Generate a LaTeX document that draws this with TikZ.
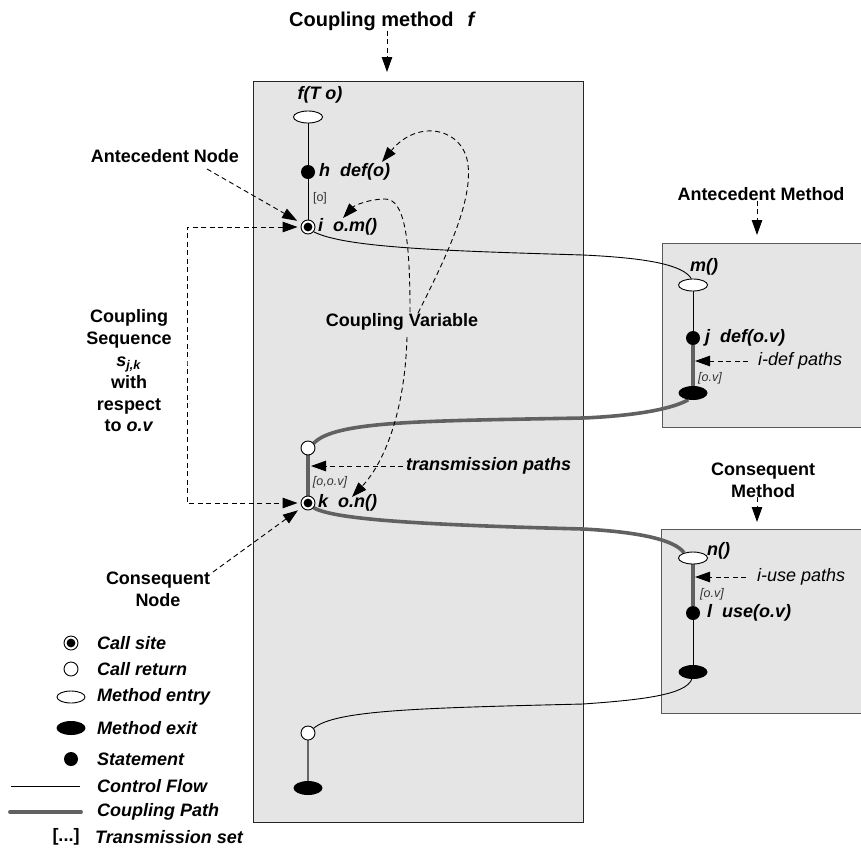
\documentclass[tikz,border=0pt]{standalone}
\usepackage{fontspec}
\setmainfont{Liberation Sans}
\usetikzlibrary{arrows.meta,shapes.geometric,backgrounds}

\definecolor{boxgray}{gray}{0.9}
\definecolor{pathgray}{gray}{0.38}

\begin{document}
\begin{tikzpicture}[x=1pt,y=-1pt,
  >={Triangle[length=15pt,width=10.5pt]},
  lbl/.style={font=\fontsize{18}{21.8}\selectfont\bfseries, align=center, inner sep=0pt},
  titlefont/.style={font=\fontsize{20}{24}\selectfont\bfseries, inner sep=0pt},
  code/.style={font=\fontsize{18}{21.6}\selectfont\bfseries\itshape, inner sep=0pt, anchor=west},
  note/.style={font=\fontsize{18}{21.6}\selectfont\itshape, inner sep=0pt, anchor=west},
  tset/.style={font=\fontsize{12.5}{15}\selectfont, inner sep=0pt, text=black!80},
  tseti/.style={font=\fontsize{12.5}{15}\selectfont\itshape, inner sep=0pt, text=black!80},
  box/.style={fill=boxgray, draw=black!85, line width=1pt, inner sep=0pt, anchor=north west},
  callsite/.style={circle, draw, fill=white, minimum size=14pt, inner sep=0pt, line width=0.9pt,
    path picture={\fill[black] (path picture bounding box.center) circle (4.4pt);}},
  retcall/.style={circle, draw, fill=white, minimum size=14pt, inner sep=0pt, line width=0.9pt},
  entry/.style={ellipse, draw, fill=white, minimum width=29pt, minimum height=12pt, inner sep=0pt, line width=0.9pt},
  exitn/.style={ellipse, fill=black, minimum width=29pt, minimum height=14pt, inner sep=0pt},
  stmt/.style={circle, fill=black, minimum size=14pt, inner sep=0pt},
  cflow/.style={line width=0.9pt, draw=black},
  cpath/.style={line width=3.6pt, draw=pathgray},
  ptr/.style={->, line width=0.9pt, dash pattern=on 5pt off 3.5pt}
]
\useasboundingbox (0,0) rectangle (861,849);

% ---------- method boxes ----------
\begin{scope}[on background layer]
  \node[box, minimum width=330pt, minimum height=741pt] (fbox) at (253,81) {};
  \node[box, draw=black!65, minimum width=204pt, minimum height=184pt] (mbox) at (662,243) {};
  \node[box, draw=black!65, minimum width=204pt, minimum height=184pt] (nbox) at (661,529) {};
\end{scope}

% ---------- coupling method f ----------
\node[entry] (fentry) at (308,117) {};
\node[code, anchor=center] at (320,95) {f(T o)};
\node[stmt] (h) at (308,172) {};
\node[code] at (319,172) {h\ \ def(o)};
\node[tset] at (320,198) {[o]};
\node[callsite] (i) at (308,227) {};
\node[code] at (318,227) {i\ \ o.m()};
\node[retcall] (r1) at (308,448) {};
\node[tseti] at (330,482) {[o,o.v]};
\node[callsite] (k) at (308,503) {};
\node[code] at (318,503) {k\ \ o.n()};
\node[retcall] (r2) at (308,733) {};
\node[exitn] (fexit) at (308,788) {};

% ---------- antecedent method m ----------
\node[entry] (mentry) at (693,285) {};
\node[code, anchor=center] at (704,267) {m()};
\node[stmt] (j) at (693,338) {};
\node[code] at (705,338) {j\ \ def(o.v)};
\node[exitn] (mexit) at (693,393) {};
\node[note] (idef) at (758,361) {i-def paths};
\node[tseti] at (710,378) {[o.v]};

% ---------- consequent method n ----------
\node[entry] (nentry) at (693,558) {};
\node[code] at (707,551) {n()};
\node[note] (iuse) at (757,577) {i-use paths};
\node[tseti] at (712,594) {[o.v]};
\node[stmt] (l) at (693,613) {};
\node[code] at (707,613) {l\ \ use(o.v)};
\node[exitn] (nexit) at (693,672) {};

% ---------- control flow and coupling paths ----------
\begin{scope}[on background layer]
  \draw[cflow] (fentry) -- (h) -- (i);
  \draw[cflow] (i.-40) .. controls (345,248) and (450,251) .. (583,255)
        .. controls (648,258) and (683,265) .. (mentry.105);
  \draw[cflow] (mentry) -- (j);
  \draw[cpath] (j) -- (mexit);
  \draw[cpath] (mexit.-125) .. controls (670,410) and (630,416) .. (583,418)
        .. controls (420,421) and (335,421) .. (r1.40);
  \draw[cpath] (r1) -- (k);
  \draw[cpath] (k.-40) .. controls (335,520) and (430,525) .. (583,529)
        .. controls (640,532) and (675,540) .. (nentry.150);
  \draw[cpath] (nentry) -- (l);
  \draw[cflow] (l) -- (nexit);
  \draw[cflow] (nexit.-100) .. controls (686,695) and (640,700) .. (583,704)
        .. controls (420,708) and (335,710) .. (r2.40);
  \draw[line width=1.3pt, draw=black!60] (r2) -- (fexit);
\end{scope}

% ---------- annotations ----------
\node[titlefont, anchor=west] (title) at (289,21) {Coupling method\hspace{14pt}\textit{f}};
\coordinate (ftip) at (387,72);
\draw[ptr] (title.south -| ftip) -- (ftip);

\node[lbl] (amlbl) at (761,194) {Antecedent Method};
\coordinate (amtip) at (757,235);
\draw[ptr] (amlbl.south -| amtip) -- (amtip);

\node[lbl] (cmlbl) at (763,480) {Consequent\\Method};
\coordinate (cmtip) at (757,522);
\draw[ptr] (cmlbl.south -| cmtip) -- (cmtip);

\node[lbl] (antn) at (165,156) {Antecedent Node};
\coordinate (antnfoot) at (207,169);
\draw[ptr, shorten >=5pt] (antnfoot) -- (i);

\node[lbl] (consn) at (158,589) {Consequent\\Node};
\coordinate (consnfoot) at (213,572);
\draw[ptr, shorten >=5pt] (consnfoot) -- (k);

\node[lbl] (cseq) at (129,371) {Coupling\\Sequence\\\textit{s}\textsubscript{\textit{j,k}}\\with\\respect\\to \textit{o.v}};
\coordinate (seqbar) at (187,365);
\draw[ptr, <->, shorten <=3pt, shorten >=3pt] (i.west) -| (seqbar) |- (k.west);

\node[lbl] (cvar) at (402,322) {Coupling Variable};
\coordinate (cva) at (418,313);
\coordinate (cvb) at (410,312);
\coordinate (cvc) at (407,337);
\coordinate (defo) at (382,162);
\coordinate (omcall) at (343,218);
\coordinate (oncall) at (352,497);
\draw[ptr] (cva) .. controls (450,250) and (472,200) .. (468,165)
      .. controls (464,128) and (418,118) .. (defo);
\draw[ptr] (cvb) .. controls (410,240) and (405,199) .. (385,199)
      .. controls (370,199) and (355,205) .. (omcall);
\draw[ptr] (cvc) .. controls (405,410) and (385,462) .. (oncall);

\node[code] (tpaths) at (406,466) {transmission paths};
\draw[ptr, shorten <=3pt, shorten >=3pt] (tpaths.west) -- (tpaths.west -| k);
\draw[ptr, shorten <=10pt, shorten >=2pt] (idef.west) -- (idef.west -| j);
\draw[ptr, shorten <=11pt, shorten >=2pt] (iuse.west) -- (iuse.west -| l);

% ---------- legend ----------
\node[callsite] (lg1) at (71,643) {};
\node[code] at (97,643) {Call site};
\node[retcall] (lg2) at (71,669) {};
\node[code] at (97,669) {Call return};
\node[entry, minimum width=28pt] (lg3) at (71,697) {};
\node[code] at (97,697) {Method entry};
\node[exitn] (lg4) at (71,728) {};
\node[code] at (97,728) {Method exit};
\node[stmt] (lg5) at (71,759) {};
\node[code] at (97,759) {Statement};
\coordinate (cfa) at (11,786);
\coordinate (cfb) at (80,786);
\draw[cflow] (cfa) -- (cfb);
\node[code] at (97,786) {Control Flow};
\coordinate (cpa) at (10,812);
\coordinate (cpb) at (81,812);
\draw[cpath, line width=3.8pt, line cap=round] (cpa) -- (cpb);
\node[code] at (97,812) {Coupling Path};
\node[lbl] at (66,837) {[...]};
\node[code] at (95,837) {Transmission set};
\end{tikzpicture}
\end{document}
